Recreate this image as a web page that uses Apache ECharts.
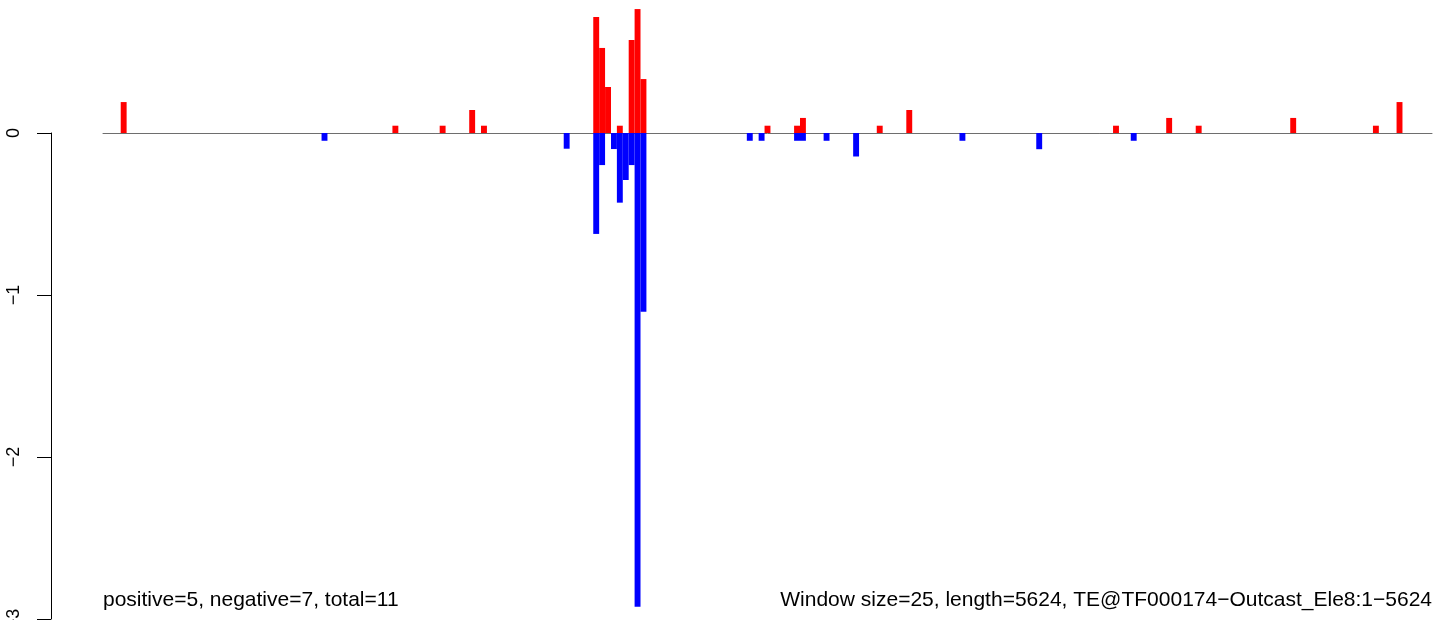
<!DOCTYPE html>
<html>
<head>
<meta charset="utf-8">
<script src="https://cdn.jsdelivr.net/npm/echarts@6/dist/echarts.min.js"></script>
<style>
html,body{margin:0;padding:0;background:#fff;}
#chart{width:1444px;height:620px;}
</style>
</head>
<body>
<div id="chart"></div>
<script>
// ---- data ----
const windowSize = 25;
const seqLength = 5624;
// window indices (0-based) carrying a positive value, and their values
const posWindows = [3, 49, 57, 62, 64, 83, 84, 85, 87, 89, 90, 91, 112, 117, 118, 131, 136, 171, 180, 185, 201, 215, 219];
const posValues  = [0.191, 0.045, 0.045, 0.142, 0.045, 0.716, 0.525, 0.284, 0.045, 0.574, 0.765, 0.333, 0.045, 0.045, 0.093, 0.045, 0.142, 0.045, 0.093, 0.045, 0.093, 0.045, 0.191];
// window indices carrying a negative value, and their values
const negWindows = [37, 78, 83, 84, 86, 87, 88, 89, 90, 91, 109, 111, 117, 118, 122, 127, 145, 158, 174];
const negValues  = [-0.048, -0.097, -0.623, -0.198, -0.099, -0.43, -0.29, -0.198, -2.924, -1.103, -0.048, -0.048, -0.048, -0.048, -0.048, -0.145, -0.048, -0.1, -0.048];
const yTicks = [-3, -2, -1, 0];
const leftNote = 'positive=5, negative=7, total=11';
const rightNote = 'Window size=25, length=5624, TE@TF000174\u2212Outcast_Ele8:1\u22125624';

// ---- build category axis & full series arrays ----
const nWindows = Math.ceil(seqLength / windowSize);
const categories = [];
for (let i = 0; i < nWindows; i++) categories.push(String(i * windowSize + 1));
const posData = categories.map(() => null);
const negData = categories.map(() => null);
posWindows.forEach((w, k) => { posData[w] = posValues[k]; });
negWindows.forEach((w, k) => { negData[w] = negValues[k]; });

const FONT = '"Liberation Sans", Arial, Helvetica, sans-serif';

const chart = echarts.init(document.getElementById('chart'), null, {renderer: 'canvas'});
chart.setOption({
  animation: false,
  backgroundColor: '#ffffff',
  grid: [
    {left: 103, right: 12, top: 0, bottom: 1, containLabel: false, outerBoundsMode: 'none'},
    {left: 51, width: 1, top: 133, bottom: 1, containLabel: false, outerBoundsMode: 'none'}
  ],
  xAxis: [
    {
      type: 'category', gridIndex: 0, data: categories, boundaryGap: true,
      axisLine: {show: true, onZero: true, lineStyle: {color: '#6e6e6e', width: 1}},
      axisTick: {show: false}, axisLabel: {show: false}, splitLine: {show: false}
    },
    {type: 'value', gridIndex: 1, min: 0, max: 1, show: false}
  ],
  yAxis: [
    {type: 'value', gridIndex: 0, min: -3, max: 0.821, show: false, splitLine: {show: false}},
    {
      type: 'value', gridIndex: 1, min: yTicks[0], max: yTicks[yTicks.length - 1], interval: 1,
      axisLine: {show: true, lineStyle: {color: '#000', width: 1}},
      axisTick: {show: true, inside: false, length: 14, lineStyle: {color: '#000', width: 1}},
      axisLabel: {
        show: true, rotate: 90, margin: 28, fontSize: 18, color: '#000', fontFamily: FONT,
        hideOverlap: false,
        formatter: v => (v < 0 ? '\u2212' + Math.abs(v) : String(v))
      },
      splitLine: {show: false}
    }
  ],
  series: [
    {
      type: 'bar', xAxisIndex: 0, yAxisIndex: 0, data: posData,
      barWidth: '100%', barGap: '-100%',
      itemStyle: {color: '#ff0000'}, z: 3
    },
    {
      type: 'bar', xAxisIndex: 0, yAxisIndex: 0, data: negData,
      barWidth: '100%', barGap: '-100%',
      itemStyle: {color: '#0000ff'}, z: 3
    }
  ],
  graphic: [
    {type: 'text', left: 103, top: 590, style: {text: leftNote, font: '21px ' + FONT, fill: '#000'}},
    {type: 'text', right: 12, top: 590, style: {text: rightNote, font: '21px ' + FONT, fill: '#000'}}
  ]
});
</script>
</body>
</html>
